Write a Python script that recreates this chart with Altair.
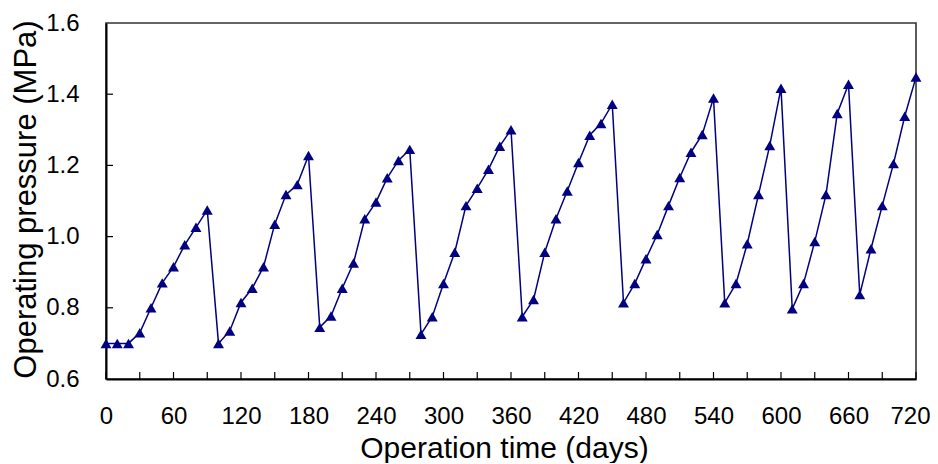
import altair as alt
import pandas as pd

days = list(range(0, 721, 10))
pressure = [
    0.70, 0.70, 0.70, 0.73, 0.80, 0.87, 0.915, 0.977, 1.026, 1.075,
    0.70, 0.735, 0.815, 0.855, 0.915, 1.035, 1.118, 1.146, 1.228,
    0.745, 0.777, 0.855, 0.926, 1.050, 1.097, 1.165, 1.214, 1.245,
    0.726, 0.775, 0.868, 0.956, 1.087, 1.136, 1.189, 1.254, 1.300,
    0.775, 0.823, 0.956, 1.050, 1.128, 1.208, 1.285, 1.318, 1.372,
    0.814, 0.868, 0.938, 1.006, 1.087, 1.166, 1.237, 1.287, 1.389,
    0.814, 0.868, 0.980, 1.118, 1.256, 1.417,
    0.797, 0.868, 0.986, 1.118, 1.346, 1.428,
    0.837, 0.966, 1.087, 1.205, 1.338, 1.448,
]
x_ticks = list(range(0, 721, 30))
x_labels = list(range(0, 721, 60))
y_labels = [0.6, 0.8, 1.0, 1.2, 1.4, 1.6]
y_ticks = [0.8, 1.0, 1.2, 1.4]

W, H = 810, 356
FONT = "Liberation Sans"

df = pd.DataFrame({"day": days, "p": pressure})
xs = alt.Scale(domain=[0, 720], nice=False, zero=False)
ys = alt.Scale(domain=[0.6, 1.6], nice=False, zero=False)

x_axis = alt.Axis(
    title="Operation time (days)", values=x_labels, ticks=False, grid=False,
    labelFontSize=24, labelPadding=25, labelFont=FONT, labelColor="black",
    labelFlush=False, labelOverlap=False,
    labelOffset={"condition": {"test": "datum.value >= 720", "value": -6}, "value": 0},
    domainColor="black", domainWidth=2,
    titleFontSize=30, titleFont=FONT, titleFontWeight="normal", titleColor="black",
    titleX=398, titleY=78, titleBaseline="alphabetic", titleAlign="center")
y_axis = alt.Axis(
    title="Operating pressure (MPa)", values=y_labels,
    format=".1f", ticks=False, grid=False,
    labelFontSize=24, labelPadding=27, labelFont=FONT, labelColor="black",
    labelFlush=False, labelOverlap=False,
    domainColor="black", domainWidth=2,
    titleFontSize=31, titleFont=FONT, titleFontWeight="normal", titleColor="black",
    titleX=-71, titleY=176, titleBaseline="alphabetic", titleAlign="center")

line = alt.Chart(df).mark_line(color="#000080", strokeWidth=1.5).encode(
    x=alt.X("day:Q", scale=xs, axis=x_axis),
    y=alt.Y("p:Q", scale=ys, axis=y_axis),
)

pts = alt.Chart(df).mark_point(shape="triangle-up", filled=True, size=120,
                               color="#000080", opacity=1).encode(
    x=alt.X("day:Q", scale=xs, axis=x_axis),
    y=alt.Y("p:Q", scale=ys, axis=y_axis),
)

xt = alt.Chart(pd.DataFrame({"day": x_ticks})).mark_rule(color="black", strokeWidth=1.2).encode(
    x=alt.X("day:Q", scale=xs, axis=x_axis),
    y=alt.value(H), y2=alt.value(H - 7),
)
yt = alt.Chart(pd.DataFrame({"p": y_ticks})).mark_rule(color="black", strokeWidth=1.2).encode(
    y=alt.Y("p:Q", scale=ys, axis=y_axis),
    x=alt.value(0), x2=alt.value(7),
)

chart = alt.layer(xt, yt, line, pts).properties(
    width=W, height=H,
    autosize=alt.AutoSizeParams(type="none"),
    padding={"left": 98, "top": 15, "right": 14, "bottom": 84},
    background="white",
).configure_view(stroke="#333333", strokeWidth=1.6)

chart.save("out.html", embed_options={"renderer": "svg", "actions": False})
